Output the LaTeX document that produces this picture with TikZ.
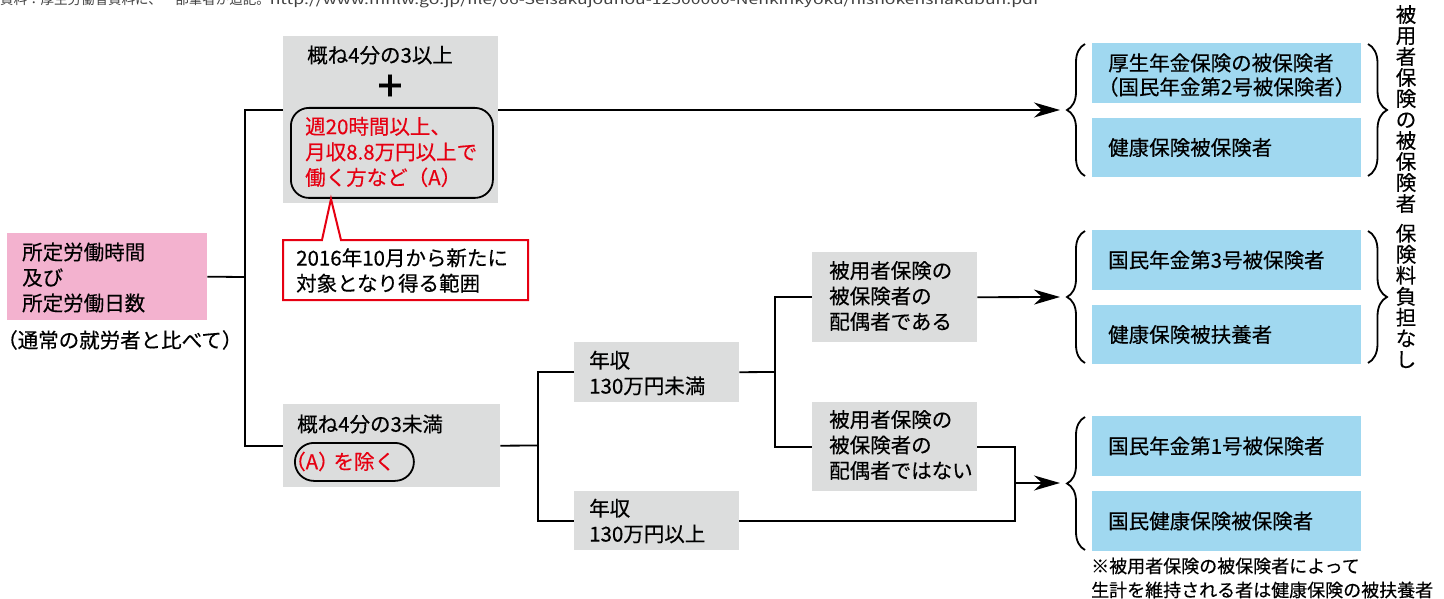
\documentclass[tikz,border=0pt]{standalone}
\usepackage{fontspec}
\setmainfont{Noto Sans CJK JP}[FakeBold=0.35]
\newfontfamily\capfont{Noto Sans CJK JP}
\usetikzlibrary{arrows.meta,decorations.pathreplacing,calc}
\definecolor{boxgray}{RGB}{220,221,221}
\definecolor{boxpink}{RGB}{243,178,207}
\definecolor{boxblue}{RGB}{160,216,240}
\definecolor{jred}{RGB}{230,0,18}
\tikzset{
  every node/.style={font=\fontsize{20.5}{25.5}\selectfont, inner sep=0pt},
  conn/.style={line width=1.8pt},
  arr/.style={conn,-{Stealth[length=26pt,width=15pt,inset=8pt]}},
  txt/.style={anchor=west, align=left},
  gbox/.style={fill=boxgray, anchor=north west},
  bbox/.style={fill=boxblue, anchor=north west, minimum width=269pt},
  rbox/.style={draw, line width=1.8pt, anchor=north west},
  bracestyle/.style={line width=1.8pt, decorate, decoration={brace, amplitude=#1}},
}
\begin{document}
\begin{tikzpicture}[x=1pt,y=-1pt]
\useasboundingbox (0,0) rectangle (1444,599);
% caption (clipped at top, as in the source)
\begin{scope}
\clip (0,0) rectangle (1444,599);
\node[anchor=base west, font=\capfont\fontsize{13.5}{13.5}\selectfont, text=black!75] (cap) at (0,4.5) {資料：厚生労働省資料に、一部筆者が追記。\scalebox{1.3}[1]{http://www.mhlw.go.jp/file/06-Seisakujouhou-12500000-Nenkinkyoku/hishokenshakubun.pdf}};
\end{scope}

% left box
\node[fill=boxpink, anchor=north west, minimum width=200pt, minimum height=87pt] (P) at (7,233) {};
\node[txt] (Pt) at (22,277.5) {所定労働時間\\及び\\所定労働日数};
\node[txt] (Pn) at (-3,340) {（通常の就労者と比べて）};

% upper gray box
\node[gbox, minimum width=215pt, minimum height=167pt] (G1) at (283,36) {};
\node[txt] (G1t) at (307,55) {概ね4分の3以上};
\node[font=\bfseries\fontsize{31}{31}\selectfont] (plus) at (390,86) {＋};
\node[rbox, rounded corners=18pt, minimum width=202pt, minimum height=90pt] (R) at (290,107) {};
\node[txt, text=jred] (Rt) at (305,152) {週20時間以上、\\月収8.8万円以上で\\働く方など（A）};

% callout
\draw[jred, line width=2pt, fill=white] (283,240) -- (322,240) -- (331,199) -- (341,240) -- (528,240) -- (528,300) -- (283,300) -- cycle;
\node[txt] (Ct) at (296,270.5) {2016年10月から新たに\\対象となり得る範囲};

% lower gray box
\node[gbox, minimum width=217pt, minimum height=83pt] (G2) at (283,404) {};
\node[txt] (G2t) at (297,424) {概ね4分の3未満};
\node[rbox, rounded corners=19pt, minimum width=119pt, minimum height=38pt] (pill) at (294,442) {};
\node[txt, text=jred] (pillt) at (285,461.5) {（A）\hspace{-0.25em}を除く};

% income boxes
\node[gbox, minimum width=165pt, minimum height=60pt] (A1) at (574,342) {};
\node[txt] (A1t) at (589,373) {年収\\130万円未満};
\node[gbox, minimum width=165pt, minimum height=59pt] (A2) at (574,491) {};
\node[txt] (A2t) at (589,521) {年収\\130万円以上};

% spouse boxes
\node[gbox, minimum width=165pt, minimum height=90pt] (S1) at (812,252) {};
\node[txt] (S1t) at (829,296) {被用者保険の\\被保険者の\\配偶者である};
\node[gbox, minimum width=165pt, minimum height=89pt] (S2) at (812,402) {};
\node[txt] (S2t) at (829,445) {被用者保険の\\被保険者の\\配偶者ではない};

% blue result boxes
\node[bbox, minimum height=60pt] (B1) at (1092,43) {};
\node[txt, font=\fontsize{20.5}{24}\selectfont] (B1t) at (1108,75) {厚生年金保険の被保険者\\\hspace*{-0.5em}（国民年金第2号被保険者）};
\node[bbox, minimum height=59pt] (B2) at (1092,118) {};
\node[txt] (B2t) at (1108,147.5) {健康保険被保険者};
\node[bbox, minimum height=60pt] (B3) at (1092,230) {};
\node[txt] (B3t) at (1108,260) {国民年金第3号被保険者};
\node[bbox, minimum height=59pt] (B4) at (1092,305) {};
\node[txt] (B4t) at (1108,334.5) {健康保険被扶養者};
\node[bbox, minimum height=60pt] (B5) at (1092,416) {};
\node[txt] (B5t) at (1108,446) {国民年金第1号被保険者};
\node[bbox, minimum height=60pt] (B6) at (1092,491) {};
\node[txt] (B6t) at (1108,521) {国民健康保険被保険者};
\node[txt, font=\fontsize{18}{24}\selectfont] (note) at (1091,578) {※被用者保険の被保険者によって\\生計を維持される者は健康保険の被扶養者};

% vertical labels
\node[align=center, font=\fontsize{20.5}{21}\selectfont] (V1) at (1406,109) {被\\用\\者\\保\\険\\の\\被\\保\\険\\者};
\node[align=center, font=\fontsize{20.5}{21}\selectfont] (V2) at (1406,296) {保\\険\\料\\負\\担\\な\\し};

% braces
\draw[bracestyle=18pt] (1085,176) -- (1085,44);
\draw[bracestyle=18pt] (1085,363) -- (1085,231);
\draw[bracestyle=18pt] (1085,550) -- (1085,417);
\draw[bracestyle=19pt] (1368,44) -- (1368,176);
\draw[bracestyle=19pt] (1368,231) -- (1368,363);

% connectors
\coordinate (j1) at (245,277);
\coordinate (g1in) at (283,110);
\coordinate (g1out) at (498,110);
\coordinate (t1) at (1060,110);
\coordinate (j2) at (538,445.5);
\coordinate (j3) at (775,372);
\coordinate (t2) at (1060,297);
\coordinate (j4) at (1015,483);
\coordinate (t3) at (1060,483);
\draw[conn] (P.east) -- (j1);
\draw[conn] (g1in) -| (j1) |- (G2.west);
\draw[arr] (g1out) -- (t1);
\draw[conn] (G2.east) -- (j2);
\draw[conn] (A1.west) -| (j2) |- (A2.west);
\draw[conn] (A1.east) -- (j3);
\draw[conn] (S1.west) -| (j3) |- (S2.west);
\draw[arr] (S1.east) -- (t2);
\draw[conn] (S2.east) -| (j4);
\draw[conn] (A2.east) -| (j4);
\draw[arr] (j4) -- (t3);
\end{tikzpicture}
\end{document}
